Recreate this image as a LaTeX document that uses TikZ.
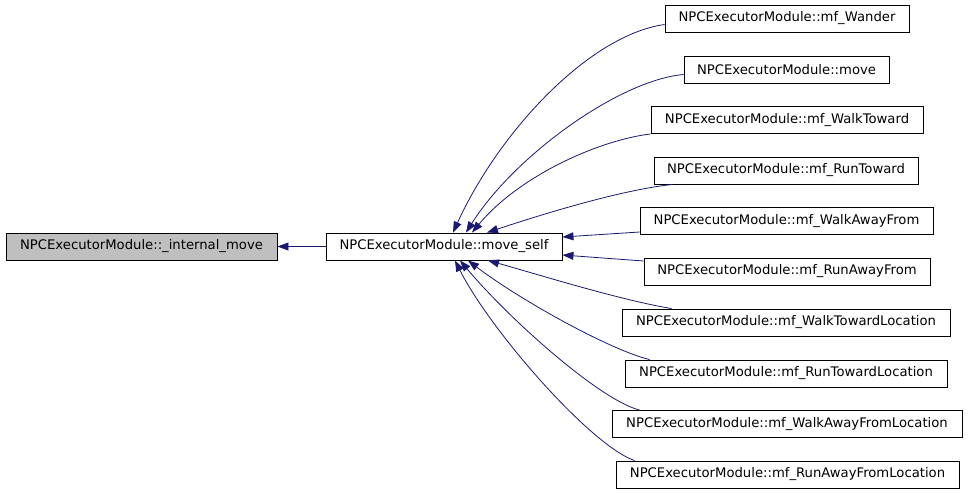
\documentclass[tikz,border=0pt]{standalone}
\usepackage{fontspec}
\setmainfont{DejaVu Sans}
\usetikzlibrary{arrows.meta}
\definecolor{edgeblue}{HTML}{191970}
\definecolor{nodegray}{HTML}{BFBFBF}
\tikzset{
  fn/.style={draw=black, line width=0.9pt, fill=white, inner sep=0pt, minimum height=27pt,
    font=\fontsize{13.2pt}{15pt}\selectfont, text=black},
  edge/.style={draw=edgeblue, line width=0.8pt, -{Triangle[length=11pt,width=8pt]}}
}
\begin{document}
\begin{tikzpicture}[x=1pt,y=-1pt]
\useasboundingbox (0,0) rectangle (968,493);
\node[fn, fill=nodegray, minimum width=271pt] (im) at (141.5,246.5) {NPCExecutorModule::\_internal\_move};
\node[fn, minimum width=236pt] (ms) at (444,246.5) {NPCExecutorModule::move\_self};
\node[fn, minimum width=244pt] (r1) at (787,18.5) {NPCExecutorModule::mf\_Wander};
\node[fn, minimum width=205pt] (r2) at (786.5,69.5) {NPCExecutorModule::move};
\node[fn, minimum width=272pt] (r3) at (787,120) {NPCExecutorModule::mf\_WalkToward};
\node[fn, minimum width=264pt] (r4) at (786,170.5) {NPCExecutorModule::mf\_RunToward};
\node[fn, minimum width=293pt] (r5) at (786.5,221) {NPCExecutorModule::mf\_WalkAwayFrom};
\node[fn, minimum width=286pt] (r6) at (787,271.5) {NPCExecutorModule::mf\_RunAwayFrom};
\node[fn, minimum width=328pt] (r7) at (786,322.5) {NPCExecutorModule::mf\_WalkTowardLocation};
\node[fn, minimum width=322pt] (r8) at (786,373.5) {NPCExecutorModule::mf\_RunTowardLocation};
\node[fn, minimum width=350pt] (r9) at (787,424) {NPCExecutorModule::mf\_WalkAwayFromLocation};
\node[fn, minimum width=343pt] (r10) at (787.5,474.5) {NPCExecutorModule::mf\_RunAwayFromLocation};

\draw[edge] (ms.west) -- (im.east);
\draw[edge] ([yshift=-6pt]r1.west) .. controls (590,35) and (500,130) .. ([xshift=9pt]ms.north);
\draw[edge] ([yshift=-5pt]r2.west) .. controls (620,80) and (515,155) .. ([xshift=22pt]ms.north);
\draw[edge] (r3.south west) .. controls (600,140) and (520,175) .. ([xshift=28pt]ms.north);
\draw[edge] ([xshift=19pt]r4.south west) .. controls (620,190) and (540,215) .. ([xshift=43pt]ms.north);
\draw[edge] ([yshift=-11pt]r5.west) -- ([yshift=9.5pt]ms.east);
\draw[edge] ([yshift=10.5pt]r6.west) -- ([yshift=-8.5pt]ms.east);
\draw[edge] ([xshift=50pt]r7.north west) .. controls (620,300) and (540,275) .. ([xshift=44pt]ms.south);
\draw[edge] ([xshift=25pt]r8.north west) .. controls (610,350) and (520,300) .. ([xshift=24pt]ms.south);
\draw[edge] ([xshift=28pt]r9.north west) .. controls (600,400) and (510,320) .. ([xshift=16pt]ms.south);
\draw[edge] ([xshift=19pt]r10.north west) .. controls (590,445) and (490,330) .. ([xshift=11pt]ms.south);
\end{tikzpicture}
\end{document}
